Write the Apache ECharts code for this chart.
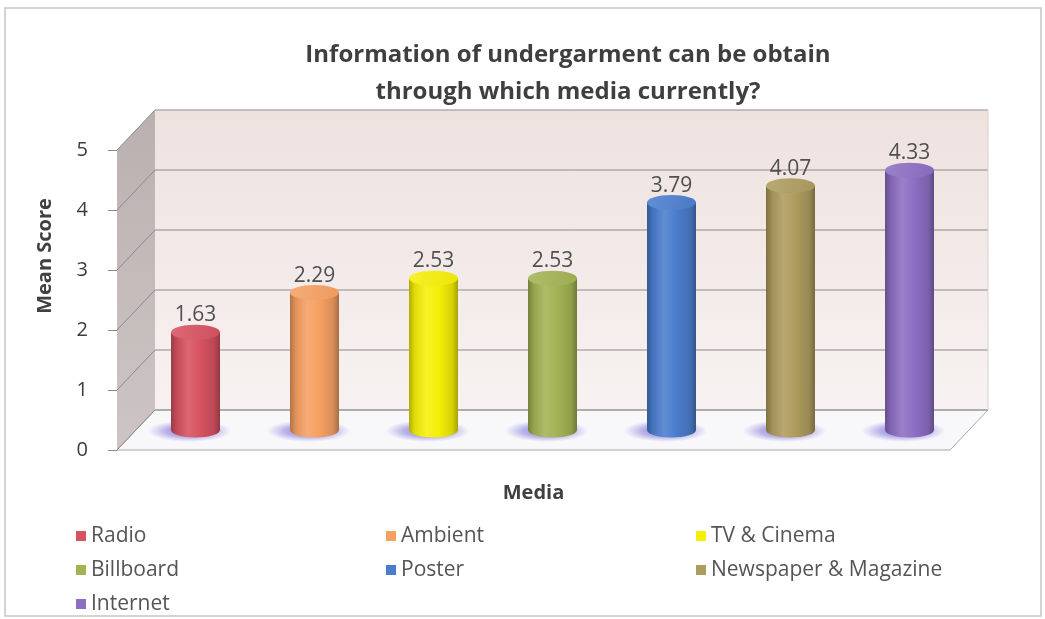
<!DOCTYPE html>
<html>
<head>
<meta charset="utf-8">
<script src="https://cdn.jsdelivr.net/npm/echarts@6/dist/echarts.min.js"></script>
<style>
  html, body { margin: 0; padding: 0; background: #ffffff; }
  #chart { width: 1045px; height: 619px; }
</style>
</head>
<body>
<div id="chart"></div>
<script>
// Media channels and their mean scores
const categories = ['Radio', 'Ambient', 'TV & Cinema', 'Billboard', 'Poster', 'Newspaper & Magazine', 'Internet'];
const meanScores = [1.63, 2.29, 2.53, 2.53, 3.79, 4.07, 4.33];
const yTicks = [0, 1, 2, 3, 4, 5];

// Cylinder base colours, one per medium
const barColors = ['#d65260', '#f6a062', '#f6ef08', '#a3b353', '#4b7dcd', '#ae9c5e', '#8c6ec3'];

// Depth of the pseudo-3D box (screen offset from front plane to back wall)
const DEPTH_X = 38;
const DEPTH_Y = -40;
const FONT = '"Open Sans", Lato, sans-serif';

function hexToRgb(hex) {
  const n = parseInt(hex.slice(1), 16);
  return [(n >> 16) & 255, (n >> 8) & 255, n & 255];
}
function mix(hex, target, t) {
  const c = hexToRgb(hex);
  const r = c.map(v => Math.round(v + (target - v) * t));
  return 'rgb(' + r.join(',') + ')';
}

const chart = echarts.init(document.getElementById('chart'), null, { renderer: 'canvas' });

// Back wall, side wall, floor and gridlines of the 3D box
function renderBox(params, api) {
  const bw = api.size([1, 0])[0];
  const yMin = yTicks[0], yMax = yTicks[yTicks.length - 1];
  const x0 = api.coord([0, yMin])[0] - bw / 2;
  const x1 = api.coord([categories.length - 1, yMin])[0] + bw / 2;
  const yb = api.coord([0, yMin])[1];
  const yt = api.coord([0, yMax])[1];
  const dx = DEPTH_X, dy = DEPTH_Y;
  const children = [];
  // back wall
  children.push({
    type: 'rect',
    shape: { x: x0 + dx, y: yt + dy, width: x1 - x0, height: yb - yt },
    style: {
      fill: new echarts.graphic.LinearGradient(0, 0, 0, 1, [
        { offset: 0, color: '#eee2df' },
        { offset: 1, color: '#f7f2f1' }
      ])
    }
  });
  // left side wall
  children.push({
    type: 'polygon',
    shape: { points: [[x0, yb], [x0, yt], [x0 + dx, yt + dy], [x0 + dx, yb + dy]] },
    style: {
      fill: new echarts.graphic.LinearGradient(0, 0, 0, 1, [
        { offset: 0, color: '#bbb0b0' },
        { offset: 1, color: '#cdc5c5' }
      ])
    }
  });
  // floor
  children.push({
    type: 'polygon',
    shape: { points: [[x0, yb], [x1, yb], [x1 + dx, yb + dy], [x0 + dx, yb + dy]] },
    style: { fill: '#f8f7fa', stroke: '#a8a8a8', lineWidth: 1 }
  });
  // gridlines on back wall and side wall
  yTicks.forEach(function (t) {
    const y = api.coord([0, t])[1];
    children.push({
      type: 'polyline',
      shape: { points: [[x0, y], [x0 + dx, y + dy], [x1 + dx, y + dy]] },
      style: { fill: null, stroke: '#8e8a8a', lineWidth: 1 }
    });
  });
  // back wall right edge
  children.push({
    type: 'line',
    shape: { x1: x1 + dx, y1: yt + dy, x2: x1 + dx, y2: yb + dy },
    style: { stroke: '#d8d0d0', lineWidth: 1 }
  });
  return { type: 'group', children: children };
}

// One shaded cylinder standing in the middle of the box depth
function renderCylinder(base) {
  return function (params, api) {
    const cat = api.value(0), val = api.value(1);
    const topPt = api.coord([cat, val]);
    const botPt = api.coord([cat, 0]);
    const cx = topPt[0] + DEPTH_X / 2;
    const yT = topPt[1] + DEPTH_Y / 2;
    const yB = botPt[1] + DEPTH_Y / 2;
    const rx = 24.5, ry = 7.5;
    const bodyFill = new echarts.graphic.LinearGradient(0, 0, 1, 0, [
      { offset: 0, color: mix(base, 0, 0.28) },
      { offset: 0.12, color: mix(base, 0, 0.08) },
      { offset: 0.35, color: mix(base, 255, 0.12) },
      { offset: 0.6, color: base },
      { offset: 0.88, color: mix(base, 0, 0.12) },
      { offset: 1, color: mix(base, 0, 0.32) }
    ]);
    const shadowFill = new echarts.graphic.RadialGradient(0.5, 0.5, 0.5, [
      { offset: 0, color: 'rgba(100,90,205,0.75)' },
      { offset: 0.55, color: 'rgba(115,105,215,0.5)' },
      { offset: 1, color: 'rgba(140,130,225,0)' }
    ]);
    return {
      type: 'group',
      children: [
        {
          type: 'circle',
          shape: { cx: cx - 6, cy: yB + 1, r: 42 },
          originX: cx - 6, originY: yB + 1,
          scaleY: 0.26,
          style: { fill: shadowFill }
        },
        {
          type: 'ellipse',
          shape: { cx: cx, cy: yB, rx: rx, ry: ry },
          style: { fill: bodyFill }
        },
        {
          type: 'rect',
          shape: { x: cx - rx, y: yT, width: rx * 2, height: yB - yT },
          style: { fill: bodyFill }
        },
        {
          type: 'ellipse',
          shape: { cx: cx, cy: yT, rx: rx, ry: ry },
          style: {
            fill: new echarts.graphic.LinearGradient(0, 0, 1, 1, [
              { offset: 0, color: mix(base, 255, 0.14) },
              { offset: 1, color: mix(base, 0, 0.04) }
            ])
          }
        },
        {
          type: 'text',
          x: cx, y: yT - 17,
          style: {
            text: val.toFixed(2),
            fill: '#505050',
            font: '21px ' + FONT,
            textAlign: 'center',
            textVerticalAlign: 'middle'
          }
        }
      ]
    };
  };
}

const series = [{
  name: 'box',
  type: 'custom',
  z: 1,
  silent: true,
  renderItem: renderBox,
  data: [[0, 0]]
}];
categories.forEach(function (name, i) {
  series.push({
    name: name,
    type: 'custom',
    z: 2,
    itemStyle: { color: barColors[i] },
    renderItem: renderCylinder(barColors[i]),
    data: [[i, meanScores[i]]]
  });
});

const option = {
  backgroundColor: '#ffffff',
  animation: false,
  title: {
    text: 'Information of undergarment can be obtain\nthrough which media currently?',
    left: 563,
    top: 32,
    textAlign: 'center',
    textStyle: {
      fontFamily: FONT,
      fontWeight: 'bold',
      fontSize: 24,
      lineHeight: 37,
      color: '#3f3f3f'
    }
  },
  grid: { left: 117, right: 95, top: 150, bottom: 169, containLabel: false },
  xAxis: {
    type: 'category',
    data: categories,
    axisLine: { show: false },
    axisTick: { show: false },
    axisLabel: { show: false },
    splitLine: { show: false },
    name: 'Media',
    nameLocation: 'middle',
    nameGap: 33,
    nameTextStyle: { fontFamily: FONT, fontWeight: 'bold', fontSize: 20, color: '#404040' }
  },
  yAxis: {
    type: 'value',
    min: yTicks[0],
    max: yTicks[yTicks.length - 1],
    interval: 1,
    axisLine: { show: true, lineStyle: { color: '#8a8a8a', width: 1 } },
    axisTick: { show: true, length: 9, lineStyle: { color: '#8a8a8a' } },
    axisLabel: { margin: 29, fontFamily: FONT, fontSize: 20, color: '#3c3c3c' },
    splitLine: { show: false }
  },
  legend: {
    data: categories,
    left: 76,
    top: 519,
    width: 960,
    padding: 0,
    orient: 'horizontal',
    itemWidth: 10,
    itemHeight: 10,
    itemGap: 0,
    icon: 'rect',
    textStyle: {
      fontFamily: FONT,
      fontSize: 21,
      color: '#555555',
      width: 295,
      lineHeight: 34,
      padding: [0, 0, 0, 0]
    }
  },
  graphic: [
    {
      type: 'rect',
      z: -10,
      shape: { x: 5, y: 8, width: 1036, height: 608 },
      style: { fill: null, stroke: '#c6c6c6', lineWidth: 1.5 }
    },
    {
      type: 'text',
      x: 45,
      y: 256,
      rotation: Math.PI / 2,
      style: {
        text: 'Mean Score',
        fill: '#404040',
        font: 'bold 20px ' + FONT,
        textAlign: 'center',
        textVerticalAlign: 'middle'
      }
    }
  ],
  series: series
};

chart.setOption(option);
</script>
</body>
</html>
